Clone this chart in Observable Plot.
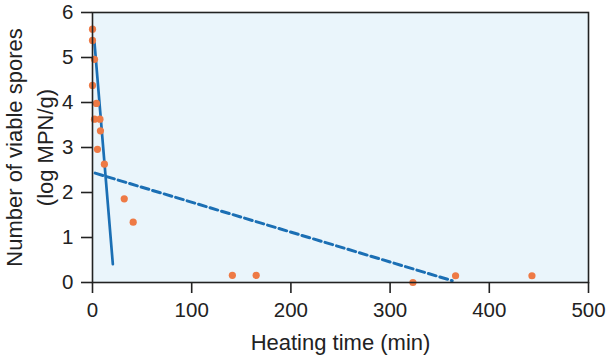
<!DOCTYPE html>
<html>
<head>
<meta charset="utf-8">
<script src="https://cdn.jsdelivr.net/npm/d3@7"></script>
<script src="https://cdn.jsdelivr.net/npm/@observablehq/plot@0.6"></script>
<style>
  html, body { margin: 0; padding: 0; background: #fff; }
  #chart { width: 607px; height: 357px; }
  #chart svg g[aria-label="x-axis tick label"],
  #chart svg g[aria-label="y-axis tick label"] { font-size: 20.5px; }
</style>
</head>
<body>
<div id="chart"></div>
<script>
// Observed data (heating time in minutes, log MPN/g)
const timeMin   = [0, 0, 2, 0, 4, 2, 7.5, 8, 5, 12, 32, 41, 141, 165, 323, 366, 443];
const logSpores = [5.63, 5.38, 4.96, 4.38, 3.98, 3.63, 3.63, 3.37, 2.96, 2.63, 1.86, 1.34, 0.16, 0.16, 0, 0.15, 0.15];

// Fitted lines
const fastFitX = [2, 20.5];
const fastFitY = [5.33, 0.41];
const slowFitX = [2.7, 362.6];
const slowFitY = [2.43, 0.04];

const xTicks = [0, 100, 200, 300, 400, 500];
const yTicks = [0, 1, 2, 3, 4, 5, 6];

const xTitle = "Heating time (min)";
const yTitle = "Number of viable spores\n(log MPN/g)";

const points = timeMin.map((t, i) => ({t, v: logSpores[i]}));
const fast = fastFitX.map((t, i) => ({t, v: fastFitY[i]}));
const slow = slowFitX.map((t, i) => ({t, v: slowFitY[i]}));

const orange = "#ee7a45";
const blue = "#1b6fb4";

const chart = Plot.plot({
  width: 607,
  height: 357,
  marginLeft: 92,
  marginRight: 19,
  marginTop: 12,
  marginBottom: 75,
  style: {fontFamily: "'Liberation Sans', Arial, sans-serif", fontSize: "20px", color: "#222", background: "#fff"},
  x: {domain: [0, 500]},
  y: {domain: [0, 6]},
  marks: [
    Plot.frame({fill: "#eaf5fb", stroke: "none"}),
    Plot.line(slow, {x: "t", y: "v", stroke: blue, strokeWidth: 3, strokeDasharray: "8,4"}),
    Plot.line(fast, {x: "t", y: "v", stroke: blue, strokeWidth: 2.7}),
    Plot.dot(points, {x: "t", y: "v", r: 3.6, fill: orange, stroke: "none"}),
    Plot.frame({stroke: "#222", strokeWidth: 1.6}),
    Plot.axisX({ticks: xTicks, tickFormat: d => String(d), tickSize: 11, tickPadding: 9, label: null, stroke: "#222", strokeWidth: 1.6, fill: "#222"}),
    Plot.axisY({ticks: yTicks, tickFormat: d => String(d), tickSize: 11, tickPadding: 8, label: null, stroke: "#222", strokeWidth: 1.6, fill: "#222"}),
    Plot.text([xTitle], {frameAnchor: "bottom", dy: 60, text: d => d, fontSize: 22, fill: "#222", lineAnchor: "middle", textAnchor: "middle"}),
    Plot.text([yTitle], {frameAnchor: "left", dx: -65, rotate: -90, text: d => d, fontSize: 22, lineHeight: 1.4, fill: "#222", lineAnchor: "middle", textAnchor: "middle"})
  ]
});
document.getElementById("chart").appendChild(chart);
</script>
</body>
</html>
